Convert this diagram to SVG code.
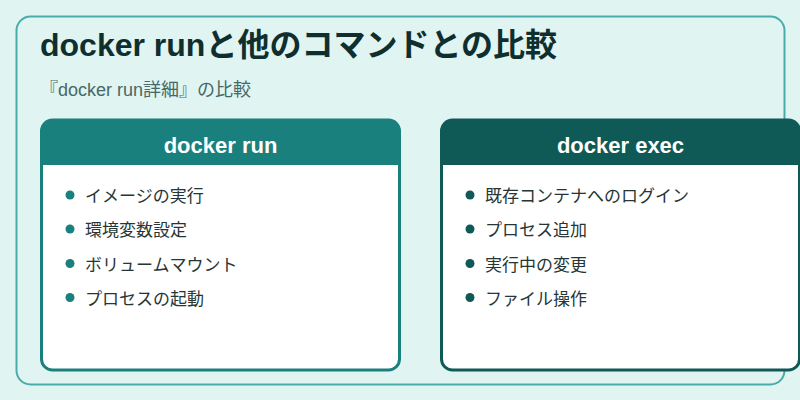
<svg xmlns="http://www.w3.org/2000/svg" width="800" height="400" viewBox="0 0 800 400">
<style>
.title{font-family:"Liberation Sans","Noto Sans CJK JP",sans-serif;font-weight:bold;font-size:32px;fill:#0f2f2e}
.sub{font-family:"Liberation Sans","Noto Sans CJK JP",sans-serif;font-size:18px;fill:#466866}
.hdr{font-family:"Liberation Sans","Noto Sans CJK JP",sans-serif;font-weight:bold;font-size:22px;fill:#ffffff;text-anchor:middle}
.item{font-family:"Liberation Sans","Noto Sans CJK JP",sans-serif;font-size:17px;fill:#263636}
</style>
<rect x="0" y="0" width="800" height="400" fill="#e0f4f2"/>
<rect x="16.5" y="16.5" width="768" height="368" rx="14" fill="none" stroke="#4aabab" stroke-width="2"/>
<text class="title" x="40" y="56">docker runと他のコマンドとの比較</text>
<text class="sub" x="40" y="96">『docker run詳細』の比較</text>
<g id="card-run">
<clipPath id="c1"><rect x="41.5" y="120" width="358" height="250" rx="11"/></clipPath>
<rect x="41.5" y="120" width="358" height="250" rx="11" fill="#ffffff"/>
<rect x="41.5" y="120" width="358" height="45" fill="#1a807d" clip-path="url(#c1)"/>
<rect x="41.5" y="120" width="358" height="250" rx="11" fill="none" stroke="#1a807d" stroke-width="3"/>
<text class="hdr" x="220.5" y="153">docker run</text>
<circle cx="70" cy="195" r="4.5" fill="#1a807d"/>
<circle cx="70" cy="229" r="4.5" fill="#1a807d"/>
<circle cx="70" cy="263.5" r="4.5" fill="#1a807d"/>
<circle cx="70" cy="297.5" r="4.5" fill="#1a807d"/>
<text class="item" x="85" y="202">イメージの実行</text>
<text class="item" x="85" y="236">環境変数設定</text>
<text class="item" x="85" y="270.5">ボリュームマウント</text>
<text class="item" x="85" y="304.5">プロセスの起動</text>
</g>
<g id="card-exec">
<clipPath id="c2"><rect x="441.5" y="120" width="358" height="250" rx="11"/></clipPath>
<rect x="441.5" y="120" width="358" height="250" rx="11" fill="#ffffff"/>
<rect x="441.5" y="120" width="358" height="45" fill="#0f5957" clip-path="url(#c2)"/>
<rect x="441.5" y="120" width="358" height="250" rx="11" fill="none" stroke="#0f5957" stroke-width="3"/>
<text class="hdr" x="620.5" y="153">docker exec</text>
<circle cx="470" cy="195" r="4.5" fill="#0f5957"/>
<circle cx="470" cy="229" r="4.5" fill="#0f5957"/>
<circle cx="470" cy="263.5" r="4.5" fill="#0f5957"/>
<circle cx="470" cy="297.5" r="4.5" fill="#0f5957"/>
<text class="item" x="485" y="202">既存コンテナへのログイン</text>
<text class="item" x="485" y="236">プロセス追加</text>
<text class="item" x="485" y="270.5">実行中の変更</text>
<text class="item" x="485" y="304.5">ファイル操作</text>
</g>
<g id="connectors"/>
</svg>
